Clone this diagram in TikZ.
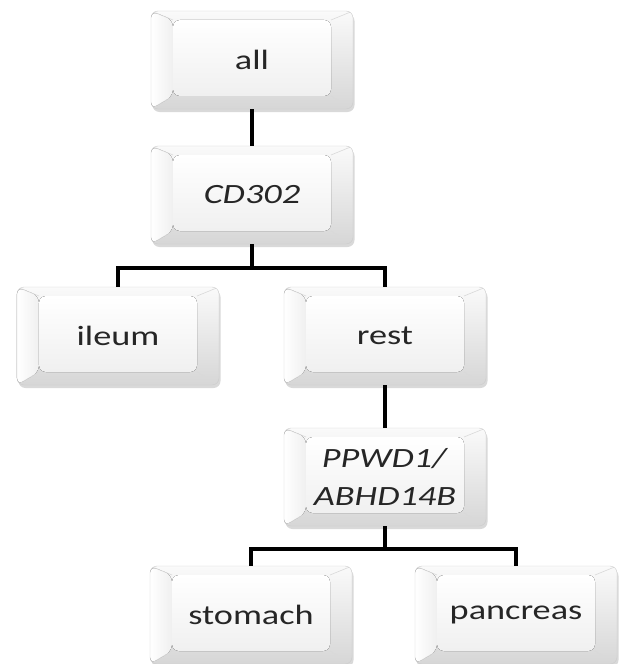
\documentclass[tikz,border=0pt]{standalone}
\usepackage{fontspec}
\setmainfont{Carlito}[FakeStretch=1.3]
\usetikzlibrary{calc,shadows}

\begin{document}
\begin{tikzpicture}[
    x=1bp, y=-1bp,
    box/.style={rectangle, draw=gray!40, rounded corners=7bp, minimum width=202bp, minimum height=98bp, inner sep=0pt, align=center,
      top color=gray!4, bottom color=gray!32, text=black!85, font=\fontsize{28}{38}\selectfont,
      drop shadow={shadow xshift=1.5bp, shadow yshift=-3bp, opacity=0.3, fill=gray},
      path picture={
        \coordinate (bnw) at (path picture bounding box.north west);
        \coordinate (bse) at (path picture bounding box.south east);
        \coordinate (bne) at (path picture bounding box.north east);
        \coordinate (bsw) at (path picture bounding box.south west);
        % lighter left bevel
        \fill[left color=white, right color=gray!12] (bnw) -- ($(bnw)+(22bp,-9bp)$) -- ($(bsw)+(22bp,13bp)$) -- (bsw) -- cycle;
        % inner face
        \fill[top color=white, bottom color=gray!12]
          ($(bnw)+(22bp,-9bp)$) rectangle ($(bse)+(-22bp,13bp)$);
        \draw[gray!30, line width=0.6bp] (bnw) -- ($(bnw)+(22bp,-9bp)$)
          (bne) -- ($(bne)+(-22bp,-9bp)$)
          (bsw) -- ($(bsw)+(22bp,13bp)$)
          (bse) -- ($(bse)+(-22bp,13bp)$);
      }},
    link/.style={draw=black, line width=4.4bp}
]
\useasboundingbox (0,0) rectangle (624,664);

% Top level
\node[box] (all) at (252,60) {all};
\node[box] (cd) at (252,195) {\textit{CD302}};

% Second level
\node[box] (ileum) at (118,336) {ileum};
\node[box] (rest) at (385,336) {rest};

% Third level
\node[box] (ppwd) at (385,477) {\textit{PPWD1/}\\\textit{ABHD14B}};

% Leaves
\node[box] (stomach) at (251,615) {stomach};
\node[box] (pancreas) at (516,615) {pancreas};

% Links
\draw[link] (all) -- (cd);
\draw[link] (cd.south) -- ++(0,24) -| (ileum.north);
\draw[link] (cd.south) -- ++(0,24) -| (rest.north);
\draw[link] (rest) -- (ppwd);
\draw[link] (ppwd.south) -- ++(0,23) -| (stomach.north);
\draw[link] (ppwd.south) -- ++(0,23) -| (pancreas.north);

\end{tikzpicture}
\end{document}
